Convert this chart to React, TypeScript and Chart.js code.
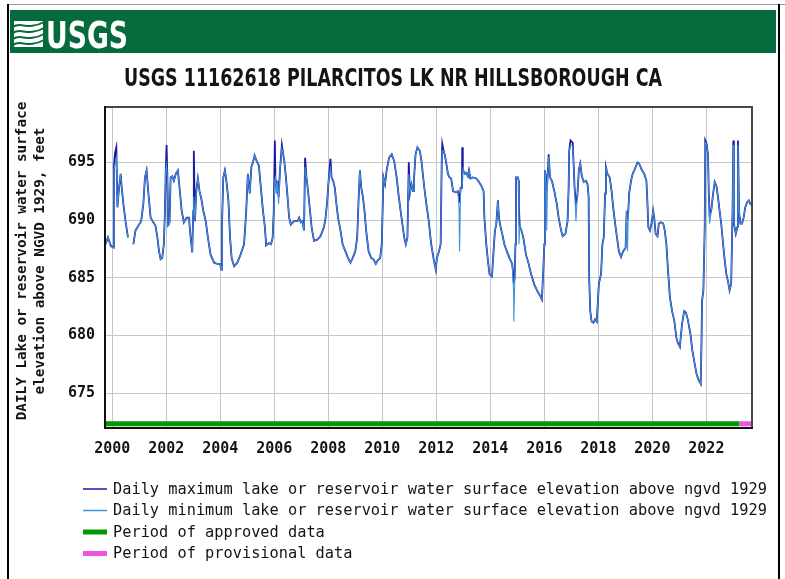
import { useEffect, useRef } from "react";
import { Chart, registerables } from "chart.js";

Chart.register(...registerables);

// ---- text ----
const SITE_TITLE = "USGS 11162618 PILARCITOS LK NR HILLSBOROUGH CA";
const Y_TITLE_LINES = ["DAILY Lake or reservoir water surface", "elevation above NGVD 1929, feet"];
const LEGEND_LABELS = [
  "Daily maximum lake or reservoir water surface elevation above ngvd 1929",
  "Daily minimum lake or reservoir water surface elevation above ngvd 1929",
  "Period of approved data",
  "Period of provisional data",
];

// ---- axes ----
const yearTicks = [2000, 2002, 2004, 2006, 2008, 2010, 2012, 2014, 2016, 2018, 2020, 2022];
const elevationTicks = [675, 680, 685, 690, 695];
const yearRange = [1999.73, 2023.69];
const elevationRange = [671.97, 699.8];

// ---- series (decimal year, feet) ----
const sampleYears = [
  1999.75, 1999.84, 1999.94, 2000.04, 2000.06, 2000.1, 2000.15, 2000.19, 2000.25, 2000.31, 2000.35, 2000.41, 2000.49, 2000.58,
  2000.68,
  2000.78, 2000.86, 2000.99, 2001.07, 2001.15, 2001.21, 2001.27, 2001.33, 2001.42, 2001.52, 2001.6, 2001.67, 2001.73, 2001.79,
  2001.85, 2001.91, 2001.95, 2001.98, 2002.01, 2002.04, 2002.07, 2002.12, 2002.16, 2002.22, 2002.28, 2002.35, 2002.43, 2002.51,
  2002.57, 2002.65, 2002.75, 2002.84, 2002.9, 2002.96, 2003.0, 2003.02, 2003.06, 2003.11, 2003.17, 2003.23, 2003.3, 2003.37,
  2003.46, 2003.54, 2003.64, 2003.77, 2003.89, 2003.99, 2004.04, 2004.06, 2004.11, 2004.17, 2004.23, 2004.3, 2004.36, 2004.42,
  2004.51, 2004.63, 2004.75, 2004.88, 2004.96, 2005.02, 2005.09, 2005.15, 2005.22, 2005.27, 2005.35, 2005.43, 2005.49, 2005.58,
  2005.65, 2005.7, 2005.8, 2005.88, 2005.94, 2005.98, 2006.02, 2006.04, 2006.09, 2006.12, 2006.16, 2006.21, 2006.28, 2006.33,
  2006.37, 2006.43, 2006.49, 2006.55, 2006.61, 2006.73, 2006.86, 2006.92, 2006.98, 2007.04, 2007.1, 2007.14, 2007.19, 2007.25,
  2007.31, 2007.38, 2007.47, 2007.59, 2007.71, 2007.84, 2007.9, 2007.96, 2008.02, 2008.08, 2008.12, 2008.18, 2008.24, 2008.3,
  2008.36, 2008.45, 2008.53, 2008.63, 2008.73, 2008.82, 2008.9, 2009.0, 2009.07, 2009.12, 2009.17, 2009.22, 2009.28, 2009.34,
  2009.4, 2009.49, 2009.59, 2009.67, 2009.76, 2009.83, 2009.92, 2009.98, 2010.04, 2010.1, 2010.16, 2010.25, 2010.35, 2010.44,
  2010.53, 2010.61, 2010.71, 2010.81, 2010.87, 2010.93, 2010.98, 2011.02, 2011.08, 2011.14, 2011.17, 2011.23, 2011.3, 2011.39,
  2011.45, 2011.54, 2011.63, 2011.72, 2011.81, 2011.91, 2011.98, 2012.02, 2012.1, 2012.16, 2012.2, 2012.22, 2012.27, 2012.32,
  2012.37, 2012.43, 2012.49, 2012.55, 2012.62, 2012.71, 2012.8, 2012.84, 2012.86, 2012.9, 2012.95, 2012.96, 2012.98, 2013.05,
  2013.11, 2013.17, 2013.21, 2013.26, 2013.35, 2013.48, 2013.58, 2013.66, 2013.75, 2013.78, 2013.85, 2013.91, 2013.97, 2014.06,
  2014.12, 2014.17, 2014.22, 2014.28, 2014.32, 2014.36, 2014.44, 2014.52, 2014.61, 2014.71, 2014.81, 2014.86, 2014.87, 2014.9,
  2014.93, 2014.95, 2015.02, 2015.05, 2015.06, 2015.09, 2015.14, 2015.22, 2015.32, 2015.42, 2015.51, 2015.63, 2015.75, 2015.85,
  2015.91, 2015.96, 2016.0, 2016.02, 2016.06, 2016.09, 2016.12, 2016.16, 2016.21, 2016.28, 2016.37, 2016.46, 2016.53, 2016.62,
  2016.68, 2016.78, 2016.86, 2016.9, 2016.92, 2016.97, 2017.05, 2017.08, 2017.12, 2017.17, 2017.22, 2017.28, 2017.33, 2017.39,
  2017.46, 2017.54, 2017.6, 2017.64, 2017.66, 2017.7, 2017.75, 2017.82, 2017.88, 2017.94, 2018.02, 2018.1, 2018.15, 2018.2,
  2018.25, 2018.28, 2018.34, 2018.42, 2018.49, 2018.55, 2018.62, 2018.69, 2018.76, 2018.84, 2018.92, 2019.01, 2019.05, 2019.08,
  2019.11, 2019.14, 2019.21, 2019.27, 2019.33, 2019.38, 2019.45, 2019.51, 2019.6, 2019.7, 2019.78, 2019.82, 2019.85, 2019.91,
  2019.97, 2020.03, 2020.07, 2020.12, 2020.19, 2020.24, 2020.31, 2020.4, 2020.46, 2020.52, 2020.58, 2020.65, 2020.73, 2020.81,
  2020.89, 2020.95, 2021.02, 2021.05, 2021.1, 2021.18, 2021.24, 2021.32, 2021.41, 2021.48, 2021.57, 2021.64, 2021.72, 2021.79,
  2021.82, 2021.84, 2021.89, 2021.94, 2021.96, 2022.01, 2022.06, 2022.09, 2022.12, 2022.18, 2022.25, 2022.31, 2022.37, 2022.43,
  2022.49, 2022.55, 2022.62, 2022.68, 2022.74, 2022.8, 2022.86, 2022.92, 2022.97, 2023.0, 2023.02, 2023.09, 2023.15, 2023.17,
  2023.21, 2023.26, 2023.32, 2023.38, 2023.44, 2023.5, 2023.57, 2023.63, 2023.66,
];

const dailyMax = [
  687.9, 688.5, 687.8, 687.6, 694.6, 695.8, 696.3, 691.1, 692.8, 694.0, 692.8, 691.4, 689.9, 688.5,
  null,
  687.9, 689.1, 689.6, 689.9, 691.4, 693.7, 694.3, 692.5, 690.2, 689.8, 689.5, 688.5, 687.3, 686.6,
  686.7, 687.9, 690.8, 694.3, 696.5, 693.7, 689.6, 689.8, 693.7, 693.8, 693.4, 694.0, 694.3, 692.3,
  690.8, 689.8, 690.2, 690.2, 688.5, 687.2, 690.8, 696.0, 689.9, 692.5, 693.6, 692.5, 691.8, 690.8,
  689.9, 688.5, 687.0, 686.3, 686.2, 686.2, 685.7, 689.4, 693.7, 694.3, 693.3, 691.7, 688.5, 686.7,
  686.0, 686.3, 687.0, 687.9, 690.8, 694.0, 692.3, 694.6, 695.1, 695.6, 695.1, 694.7, 693.1, 690.8,
  689.4, 687.8, 688.0, 687.9, 688.5, 690.8, 696.9, 693.7, 692.3, 693.4, 692.0, 694.3, 696.5, 695.7,
  695.1, 693.7, 692.0, 690.2, 689.6, 689.9, 689.9, 690.2, 689.8, 689.9, 689.1, 695.4, 693.7, 692.5,
  691.1, 689.4, 688.2, 688.3, 688.6, 689.4, 690.2, 691.7, 693.7, 695.3, 693.7, 693.4, 692.8, 691.4,
  690.2, 689.1, 687.9, 687.3, 686.7, 686.3, 686.7, 687.3, 688.5, 691.7, 694.3, 692.8, 692.0, 690.8,
  689.1, 687.3, 686.7, 686.6, 686.2, 686.5, 686.7, 687.9, 693.7, 693.1, 694.3, 695.4, 695.7, 695.1,
  693.7, 692.0, 690.2, 688.5, 687.9, 688.5, 695.0, 692.3, 693.1, 692.5, 693.4, 695.7, 696.3, 696.0,
  695.1, 693.1, 691.4, 689.9, 687.9, 686.5, 685.7, 686.7, 687.3, 687.9, 695.1, 696.6, 696.0, 695.6,
  694.9, 694.0, 693.7, 693.6, 692.5, 692.4, 692.5, 692.0, 691.5, 692.8, 692.8, 696.3, 694.4, 694.0,
  694.1, 693.8, 694.3, 693.6, 693.7, 693.6, 693.3, 693.0, 692.5, 690.2, 687.9, 686.5, 685.3, 685.1,
  687.3, 689.1, 689.6, 691.7, 690.2, 689.6, 688.8, 687.9, 687.3, 686.7, 686.2, 685.0, 684.5, 685.0,
  687.9, 693.7, 693.7, 693.4, 691.0, 689.4, 689.2, 688.5, 687.0, 686.2, 685.3, 684.4, 683.8, 683.4,
  683.1, 685.6, 687.9, 694.3, 693.7, 692.5, 693.7, 695.7, 693.7, 693.4, 692.5, 691.4, 690.2, 689.1,
  688.6, 688.8, 689.9, 692.8, 696.0, 696.9, 696.7, 695.1, 692.8, 691.5, 692.0, 694.4, 694.9, 693.8,
  693.3, 693.4, 693.1, 692.0, 685.0, 682.1, 681.2, 681.1, 681.4, 681.2, 684.5, 685.3, 687.9, 688.5,
  692.3, 694.6, 694.0, 693.7, 692.5, 691.1, 689.7, 688.5, 687.3, 686.8, 687.3, 687.6, 690.8, 690.0,
  690.8, 692.3, 693.4, 694.0, 694.3, 694.6, 695.0, 694.9, 694.4, 694.0, 693.4, 691.4, 689.4, 689.1,
  689.7, 690.8, 690.2, 688.8, 688.6, 689.7, 689.8, 689.7, 689.1, 687.9, 685.6, 683.3, 682.1, 681.3,
  679.8, 679.3, 679.0, 679.8, 681.0, 682.1, 682.0, 681.3, 680.1, 678.7, 677.5, 676.6, 676.1, 675.8,
  679.3, 683.0, 683.9, 689.4, 696.9, 696.6, 695.7, 692.3, 690.5, 690.8, 692.3, 693.3, 693.0, 692.0,
  690.8, 689.7, 687.9, 686.5, 685.3, 684.7, 683.9, 684.5, 690.8, 696.9, 689.7, 688.8, 689.4, 696.9,
  690.8, 689.7, 689.7, 690.2, 691.1, 691.5, 691.7, 691.4, 691.5,
];

const dailyMin = [
  687.9, 688.5, 687.7, 687.6, 694.4, 694.8, 695.4, 691.1, 692.8, 694.0, 692.8, 691.4, 689.9, 688.5,
  null,
  687.9, 689.1, 689.6, 689.9, 691.4, 693.7, 694.3, 692.5, 690.2, 689.8, 689.5, 688.5, 687.3, 686.6,
  686.7, 687.9, 690.8, 694.3, 694.8, 693.7, 689.5, 689.6, 693.7, 693.8, 693.4, 694.0, 694.3, 692.3,
  690.8, 689.8, 690.2, 690.2, 688.5, 687.2, 690.8, 692.0, 689.9, 692.5, 693.6, 692.5, 691.8, 690.8,
  689.9, 688.5, 687.0, 686.3, 686.2, 686.2, 685.7, 689.4, 693.7, 694.3, 693.3, 691.7, 688.5, 686.7,
  686.0, 686.3, 687.0, 687.9, 690.8, 694.0, 692.3, 694.6, 695.1, 695.6, 695.1, 694.7, 693.1, 690.8,
  689.4, 687.8, 688.0, 687.9, 688.5, 690.8, 693.5, 693.7, 692.3, 693.4, 691.4, 694.3, 696.2, 695.7,
  695.1, 693.7, 692.0, 690.2, 689.6, 689.9, 689.9, 690.2, 689.8, 689.9, 689.1, 694.6, 693.7, 692.5,
  691.1, 689.4, 688.2, 688.3, 688.6, 689.4, 690.2, 691.7, 693.7, 694.5, 693.7, 693.4, 692.8, 691.4,
  690.2, 689.1, 687.9, 687.3, 686.7, 686.3, 686.7, 687.3, 688.5, 691.7, 694.3, 692.8, 692.0, 690.8,
  689.1, 687.3, 686.7, 686.6, 686.2, 686.5, 686.7, 687.9, 693.7, 693.1, 694.3, 695.4, 695.7, 695.1,
  693.7, 692.0, 690.2, 688.5, 687.9, 688.5, 694.0, 692.3, 693.1, 692.5, 693.4, 695.7, 696.3, 696.0,
  695.1, 693.1, 691.4, 689.9, 687.9, 686.5, 685.7, 686.7, 687.3, 687.9, 695.1, 696.0, 696.0, 695.6,
  694.9, 694.0, 693.7, 693.6, 692.5, 692.4, 692.5, 691.1, 687.3, 692.8, 692.8, 693.5, 694.4, 694.0,
  694.1, 693.8, 694.3, 693.6, 693.7, 693.6, 693.3, 693.0, 692.5, 690.2, 687.9, 686.5, 685.3, 685.1,
  687.3, 689.1, 689.6, 691.7, 690.2, 689.6, 688.8, 687.9, 687.3, 686.7, 686.2, 683.8, 681.2, 684.4,
  687.9, 693.7, 693.7, 693.4, 687.9, 689.4, 689.2, 688.5, 687.0, 686.2, 685.3, 684.4, 683.8, 683.4,
  683.1, 685.6, 687.9, 694.3, 693.7, 689.1, 693.7, 695.5, 693.7, 693.4, 692.5, 691.4, 690.2, 689.1,
  688.6, 688.8, 689.9, 692.8, 696.0, 696.5, 696.4, 695.1, 692.8, 689.9, 692.0, 694.4, 694.9, 693.8,
  693.3, 693.4, 693.1, 692.0, 685.0, 682.1, 681.2, 681.1, 681.4, 681.2, 684.5, 685.3, 687.9, 688.5,
  692.3, 694.6, 694.0, 693.7, 692.5, 691.1, 689.7, 688.5, 687.3, 686.8, 687.3, 687.6, 690.8, 687.3,
  690.8, 692.3, 693.4, 694.0, 694.3, 694.6, 695.0, 694.9, 694.4, 694.0, 693.4, 691.4, 689.4, 689.1,
  689.7, 690.8, 690.2, 688.8, 688.6, 689.7, 689.8, 689.7, 689.1, 687.9, 685.6, 683.3, 682.1, 681.3,
  679.8, 679.3, 679.0, 679.8, 681.0, 682.1, 682.0, 681.3, 680.1, 678.7, 677.5, 676.6, 676.1, 675.8,
  679.3, 683.0, 683.9, 689.4, 696.7, 696.6, 695.7, 692.3, 689.7, 690.8, 692.3, 693.3, 693.0, 692.0,
  690.8, 689.7, 687.9, 686.5, 685.3, 684.7, 683.9, 684.5, 690.8, 696.5, 689.7, 688.8, 689.4, 696.5,
  690.8, 689.7, 689.7, 690.2, 691.1, 691.5, 691.7, 691.4, 691.5,
];

// ---- data-status periods along the bottom of the plot ----
const approvedPeriod = [1999.73, 2023.23];
const provisionalPeriod = [2023.23, 2023.69];
const statusBarLevel = 672.34;

const COLORS = {
  header: "#066b3c",
  max: "#1a1aa0",
  min: "#3f93d8",
  approved: "#009a00",
  provisional: "#ee55dd",
  grid: "#c6c6c6",
  text: "#141414",
};

const MONO = '"DejaVu Sans Mono", monospace';
const NARROW = '"Liberation Sans Narrow", "DejaVu Sans Condensed", "Liberation Sans", sans-serif';

// Header band, site title, y-axis title, frame and the legend.
const decorations = {
  id: "decorations",
  beforeDraw(chart: any) {
    const ctx = chart.ctx as CanvasRenderingContext2D;
    ctx.save();
    ctx.fillStyle = "#ffffff";
    ctx.fillRect(0, 0, chart.width, chart.height);

    // green banner
    ctx.fillStyle = COLORS.header;
    ctx.fillRect(10, 10, 766, 43);

    // wave emblem
    ctx.fillStyle = "#ffffff";
    ctx.fillRect(14, 21, 29, 26);
    ctx.strokeStyle = COLORS.header;
    ctx.lineWidth = 2;
    for (let i = 0; i < 4; i++) {
      const y0 = 25 + i * 6;
      ctx.beginPath();
      ctx.moveTo(13, y0 + 2);
      ctx.bezierCurveTo(20, y0 - 4, 28, y0 + 6, 44, y0 - 3);
      ctx.stroke();
    }

    // USGS word mark
    ctx.fillStyle = "#ffffff";
    ctx.font = `bold 38px ${NARROW}`;
    ctx.textBaseline = "alphabetic";
    ctx.textAlign = "left";
    const mw = ctx.measureText("USGS").width;
    ctx.save();
    ctx.translate(46, 48);
    ctx.scale(82 / mw, 1);
    ctx.fillText("USGS", 0, 0);
    ctx.restore();

    // site title
    ctx.fillStyle = COLORS.text;
    ctx.font = `bold 24px ${NARROW}`;
    const tw = ctx.measureText(SITE_TITLE).width;
    ctx.save();
    ctx.translate(393, 86);
    ctx.scale(538 / tw, 1);
    ctx.textAlign = "center";
    ctx.fillText(SITE_TITLE, 0, 0);
    ctx.restore();

    // y-axis title, two rotated lines
    ctx.font = `bold 14.3px ${MONO}`;
    ctx.textAlign = "center";
    ctx.textBaseline = "middle";
    ctx.save();
    ctx.translate(22, 261);
    ctx.rotate(-Math.PI / 2);
    ctx.fillText(Y_TITLE_LINES[0], 0, 0);
    ctx.fillText(Y_TITLE_LINES[1], 0, 18);
    ctx.restore();

    // outer frame
    ctx.strokeStyle = "#9a9a9a";
    ctx.lineWidth = 1;
    ctx.beginPath();
    ctx.moveTo(7, 4.5);
    ctx.lineTo(785, 4.5);
    ctx.stroke();
    ctx.strokeStyle = "#000000";
    ctx.lineWidth = 2;
    ctx.beginPath();
    ctx.moveTo(8, 4);
    ctx.lineTo(8, 579);
    ctx.moveTo(779, 4);
    ctx.lineTo(779, 579);
    ctx.stroke();
    ctx.restore();
  },
  afterDatasetsDraw(chart: any) {
    const ctx = chart.ctx as CanvasRenderingContext2D;
    const { left, right, top, bottom } = chart.chartArea;
    ctx.save();
    ctx.lineWidth = 2;
    ctx.strokeStyle = "#474747";
    ctx.beginPath();
    ctx.moveTo(left, top);
    ctx.lineTo(right, top);
    ctx.lineTo(right, bottom);
    ctx.stroke();
    ctx.strokeStyle = "#111111";
    ctx.beginPath();
    ctx.moveTo(left, top - 1);
    ctx.lineTo(left, bottom);
    ctx.lineTo(right + 1, bottom);
    ctx.stroke();

    // legend
    const sets = chart.data.datasets;
    const rowY = [489, 510.5, 532, 553.5];
    ctx.font = `15.3px ${MONO}`;
    ctx.textAlign = "left";
    ctx.textBaseline = "middle";
    LEGEND_LABELS.forEach((label, i) => {
      const ds = sets[i];
      ctx.strokeStyle = ds.borderColor;
      ctx.lineWidth = i < 2 ? 1.5 : 5;
      ctx.beginPath();
      ctx.moveTo(83, rowY[i]);
      ctx.lineTo(107, rowY[i]);
      ctx.stroke();
      ctx.fillStyle = COLORS.text;
      ctx.fillText(label, 113, rowY[i] + 1);
    });
    ctx.restore();
  },
};

const toPoints = (xs: number[], ys: (number | null)[]) => xs.map((x, i) => ({ x, y: ys[i] }));

export default function App() {
  const canvasRef = useRef<HTMLCanvasElement | null>(null);

  useEffect(() => {
    const canvas = canvasRef.current;
    if (!canvas) return;
    const tickFont = { family: MONO, size: 15, weight: "bold" as const };
    const chart = new Chart(canvas, {
      type: "line",
      data: {
        datasets: [
          {
            label: LEGEND_LABELS[0],
            data: toPoints(sampleYears, dailyMax),
            borderColor: COLORS.max,
            borderWidth: 1.8,
            order: 3,
          },
          {
            label: LEGEND_LABELS[1],
            data: toPoints(sampleYears, dailyMin),
            borderColor: COLORS.min,
            borderWidth: 1.1,
            order: 2,
          },
          {
            label: LEGEND_LABELS[2],
            data: approvedPeriod.map((x) => ({ x, y: statusBarLevel })),
            borderColor: COLORS.approved,
            borderWidth: 5,
            order: 1,
          },
          {
            label: LEGEND_LABELS[3],
            data: provisionalPeriod.map((x) => ({ x, y: statusBarLevel })),
            borderColor: COLORS.provisional,
            borderWidth: 5,
            order: 0,
          },
        ],
      },
      options: {
        responsive: false,
        animation: false,
        events: [],
        spanGaps: false,
        layout: { padding: { left: 0, right: 33, top: 107, bottom: 0 } },
        elements: { point: { radius: 0 }, line: { tension: 0, borderCapStyle: "butt" } },
        plugins: { legend: { display: false }, tooltip: { enabled: false }, title: { display: false } },
        scales: {
          x: {
            type: "linear",
            min: yearRange[0],
            max: yearRange[1],
            afterBuildTicks: (s: any) => {
              s.ticks = yearTicks.map((value) => ({ value }));
            },
            afterFit: (s: any) => {
              s.height = 151;
            },
            grid: { color: COLORS.grid, drawTicks: false, lineWidth: 1 },
            border: { display: false },
            ticks: {
              padding: 12,
              autoSkip: false,
              maxRotation: 0,
              color: COLORS.text,
              font: tickFont,
              callback: (v: any) => String(v),
            },
          },
          y: {
            type: "linear",
            min: elevationRange[0],
            max: elevationRange[1],
            afterBuildTicks: (s: any) => {
              s.ticks = elevationTicks.map((value) => ({ value }));
            },
            afterFit: (s: any) => {
              s.width = 105;
            },
            grid: { color: COLORS.grid, drawTicks: false, lineWidth: 1 },
            border: { display: false },
            ticks: {
              padding: 10,
              autoSkip: false,
              color: COLORS.text,
              font: tickFont,
              callback: (v: any) => String(v),
            },
          },
        },
      },
      plugins: [decorations],
    });
    return () => chart.destroy();
  }, []);

  return (
    <div style={{ position: "absolute", left: 0, top: 0, width: 785, height: 579, background: "#fff" }}>
      <canvas ref={canvasRef} width={785} height={579} style={{ display: "block" }} />
    </div>
  );
}
